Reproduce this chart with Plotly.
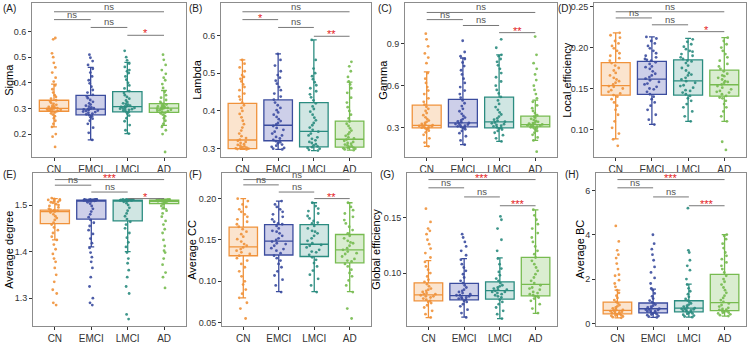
import plotly.graph_objects as go

W, H = 748, 344
GROUPS = ["CN", "EMCI", "LMCI", "AD"]
LINE_COLORS = ["#F0923B", "#3B4C9E", "#2B8C80", "#77BB50"]
FILL_COLORS = ["rgba(240,146,59,0.25)", "rgba(70,76,175,0.27)", "rgba(43,140,128,0.22)", "rgba(119,187,80,0.27)"]

# ---------------- data ----------------
SIGMA_Q1 = [0.289, 0.275, 0.287, 0.285]
SIGMA_MED = [0.300, 0.297, 0.307, 0.301]
SIGMA_Q3 = [0.332, 0.351, 0.366, 0.319]
SIGMA_LO = [0.228, 0.177, 0.202, 0.234]
SIGMA_HI = [0.395, 0.460, 0.480, 0.370]
SIGMA_CN = [0.150, 0.190, 0.200, 0.228, 0.240, 0.252, 0.262, 0.270, 0.276, 0.281, 0.285, 0.288, 0.290, 0.292, 0.294, 0.295, 0.297, 0.298, 0.299, 0.300, 0.301, 0.302, 0.304, 0.306, 0.308, 0.311, 0.314, 0.318, 0.322, 0.327, 0.332, 0.338, 0.345, 0.352, 0.362, 0.375, 0.390, 0.405, 0.420, 0.440, 0.460, 0.478, 0.500, 0.515, 0.570, 0.575]
SIGMA_EMCI = [0.177, 0.205, 0.225, 0.240, 0.252, 0.260, 0.266, 0.270, 0.274, 0.277, 0.280, 0.283, 0.286, 0.288, 0.290, 0.292, 0.294, 0.296, 0.297, 0.299, 0.301, 0.304, 0.307, 0.311, 0.315, 0.320, 0.326, 0.333, 0.340, 0.347, 0.353, 0.362, 0.372, 0.385, 0.398, 0.410, 0.425, 0.440, 0.455, 0.470, 0.485, 0.498, 0.510]
SIGMA_LMCI = [0.202, 0.215, 0.235, 0.250, 0.262, 0.272, 0.280, 0.285, 0.288, 0.291, 0.294, 0.296, 0.297, 0.299, 0.300, 0.302, 0.304, 0.306, 0.308, 0.310, 0.311, 0.315, 0.318, 0.320, 0.325, 0.331, 0.338, 0.345, 0.352, 0.360, 0.368, 0.378, 0.390, 0.400, 0.412, 0.425, 0.438, 0.445, 0.450, 0.462, 0.475, 0.488, 0.500, 0.525]
SIGMA_AD = [0.130, 0.200, 0.215, 0.228, 0.240, 0.252, 0.262, 0.270, 0.276, 0.281, 0.284, 0.287, 0.289, 0.291, 0.293, 0.295, 0.297, 0.299, 0.300, 0.301, 0.302, 0.304, 0.306, 0.308, 0.310, 0.312, 0.315, 0.318, 0.321, 0.326, 0.333, 0.342, 0.352, 0.365, 0.380, 0.395, 0.410, 0.420, 0.435, 0.450, 0.470, 0.490, 0.510]

LAMBDA_Q1 = [0.300, 0.321, 0.305, 0.304]
LAMBDA_MED = [0.323, 0.362, 0.346, 0.325]
LAMBDA_Q3 = [0.420, 0.429, 0.422, 0.373]
LAMBDA_LO = [0.298, 0.298, 0.295, 0.296]
LAMBDA_HI = [0.535, 0.551, 0.588, 0.476]
LAMBDA_CN = [0.298, 0.299, 0.300, 0.301, 0.302, 0.303, 0.304, 0.306, 0.308, 0.310, 0.312, 0.315, 0.318, 0.321, 0.324, 0.328, 0.333, 0.340, 0.348, 0.356, 0.365, 0.374, 0.383, 0.392, 0.400, 0.408, 0.415, 0.422, 0.430, 0.438, 0.446, 0.455, 0.463, 0.470, 0.478, 0.485, 0.490, 0.495, 0.505, 0.515, 0.525, 0.535]
LAMBDA_EMCI = [0.298, 0.300, 0.302, 0.305, 0.308, 0.311, 0.314, 0.317, 0.320, 0.323, 0.327, 0.331, 0.335, 0.340, 0.345, 0.350, 0.355, 0.360, 0.364, 0.368, 0.373, 0.378, 0.384, 0.390, 0.396, 0.402, 0.408, 0.415, 0.422, 0.430, 0.438, 0.446, 0.455, 0.463, 0.472, 0.480, 0.488, 0.495, 0.505, 0.520, 0.535, 0.551]
LAMBDA_LMCI = [0.295, 0.297, 0.300, 0.302, 0.304, 0.306, 0.309, 0.312, 0.315, 0.318, 0.322, 0.326, 0.330, 0.335, 0.340, 0.345, 0.350, 0.356, 0.362, 0.368, 0.375, 0.382, 0.390, 0.398, 0.405, 0.412, 0.420, 0.428, 0.436, 0.444, 0.452, 0.460, 0.468, 0.476, 0.484, 0.492, 0.500, 0.512, 0.535, 0.588]
LAMBDA_AD = [0.296, 0.298, 0.300, 0.301, 0.302, 0.303, 0.305, 0.307, 0.309, 0.311, 0.313, 0.315, 0.318, 0.321, 0.324, 0.327, 0.330, 0.334, 0.338, 0.343, 0.348, 0.354, 0.360, 0.366, 0.372, 0.380, 0.390, 0.400, 0.410, 0.422, 0.435, 0.448, 0.460, 0.470, 0.478, 0.490, 0.505, 0.518, 0.530]

GAMMA_Q1 = [0.300, 0.307, 0.300, 0.307]
GAMMA_MED = [0.318, 0.335, 0.342, 0.323]
GAMMA_Q3 = [0.461, 0.503, 0.519, 0.383]
GAMMA_LO = [0.168, 0.180, 0.203, 0.210]
GAMMA_HI = [0.699, 0.797, 0.820, 0.497]
GAMMA_CN = [0.168, 0.195, 0.225, 0.250, 0.268, 0.280, 0.288, 0.294, 0.298, 0.301, 0.304, 0.307, 0.310, 0.313, 0.316, 0.319, 0.323, 0.328, 0.335, 0.343, 0.352, 0.362, 0.375, 0.390, 0.405, 0.420, 0.435, 0.450, 0.465, 0.485, 0.510, 0.540, 0.565, 0.590, 0.620, 0.650, 0.690, 0.760, 0.800, 0.830, 0.880, 0.930, 0.970]
GAMMA_EMCI = [0.180, 0.210, 0.240, 0.262, 0.278, 0.290, 0.298, 0.303, 0.307, 0.311, 0.315, 0.319, 0.323, 0.327, 0.331, 0.335, 0.340, 0.346, 0.353, 0.362, 0.373, 0.385, 0.400, 0.418, 0.435, 0.455, 0.475, 0.495, 0.515, 0.540, 0.565, 0.590, 0.620, 0.650, 0.680, 0.710, 0.740, 0.765, 0.790, 0.810, 0.840, 0.920]
GAMMA_LMCI = [0.203, 0.225, 0.248, 0.265, 0.278, 0.288, 0.295, 0.300, 0.305, 0.310, 0.315, 0.320, 0.326, 0.332, 0.338, 0.344, 0.350, 0.358, 0.368, 0.380, 0.395, 0.410, 0.428, 0.448, 0.470, 0.495, 0.520, 0.545, 0.570, 0.600, 0.630, 0.660, 0.690, 0.720, 0.745, 0.770, 0.790, 0.810, 0.820, 0.870, 0.930]
GAMMA_AD = [0.130, 0.210, 0.232, 0.250, 0.265, 0.278, 0.288, 0.295, 0.300, 0.304, 0.308, 0.312, 0.315, 0.318, 0.321, 0.324, 0.327, 0.330, 0.334, 0.338, 0.343, 0.349, 0.356, 0.364, 0.372, 0.380, 0.390, 0.405, 0.420, 0.440, 0.460, 0.485, 0.510, 0.540, 0.570, 0.600, 0.640, 0.680, 0.720, 0.760, 0.820, 0.950]

LOCEFF_Q1 = [0.1420, 0.1428, 0.1420, 0.1407]
LOCEFF_MED = [0.1534, 0.1614, 0.1594, 0.1546]
LOCEFF_Q3 = [0.1816, 0.1830, 0.1850, 0.1724]
LOCEFF_LO = [0.0885, 0.1063, 0.1100, 0.1100]
LOCEFF_HI = [0.2180, 0.2130, 0.2113, 0.2120]
LOCEFF_CN = [0.080, 0.088, 0.095, 0.102, 0.110, 0.118, 0.124, 0.129, 0.133, 0.137, 0.140, 0.142, 0.144, 0.146, 0.148, 0.150, 0.152, 0.153, 0.155, 0.157, 0.159, 0.161, 0.163, 0.166, 0.169, 0.172, 0.175, 0.178, 0.181, 0.184, 0.187, 0.190, 0.193, 0.196, 0.199, 0.202, 0.205, 0.208, 0.212, 0.215, 0.218]
LOCEFF_EMCI = [0.106, 0.112, 0.118, 0.124, 0.129, 0.133, 0.137, 0.140, 0.143, 0.146, 0.149, 0.150, 0.152, 0.155, 0.156, 0.158, 0.160, 0.162, 0.164, 0.166, 0.168, 0.171, 0.174, 0.176, 0.177, 0.180, 0.182, 0.184, 0.185, 0.186, 0.188, 0.190, 0.193, 0.196, 0.199, 0.202, 0.205, 0.208, 0.211, 0.213]
LOCEFF_LMCI = [0.110, 0.116, 0.122, 0.127, 0.131, 0.135, 0.138, 0.141, 0.143, 0.145, 0.147, 0.148, 0.151, 0.153, 0.154, 0.157, 0.159, 0.161, 0.163, 0.166, 0.167, 0.169, 0.172, 0.175, 0.178, 0.181, 0.183, 0.184, 0.186, 0.188, 0.190, 0.192, 0.195, 0.196, 0.198, 0.201, 0.204, 0.207, 0.210]
LOCEFF_AD = [0.075, 0.085, 0.110, 0.116, 0.122, 0.127, 0.131, 0.135, 0.138, 0.139, 0.141, 0.143, 0.145, 0.146, 0.147, 0.149, 0.151, 0.153, 0.155, 0.157, 0.158, 0.159, 0.161, 0.163, 0.165, 0.166, 0.168, 0.171, 0.174, 0.177, 0.180, 0.184, 0.188, 0.192, 0.196, 0.200, 0.204, 0.208, 0.212]

DEGREE_Q1 = [1.460, 1.470, 1.466, 1.503]
DEGREE_MED = [1.486, 1.510, 1.510, 1.508]
DEGREE_Q3 = [1.489, 1.5105, 1.5105, 1.5105]
DEGREE_LO = [1.425, 1.410, 1.400, 1.492]
DEGREE_HI = [1.514, 1.512, 1.512, 1.512]
DEGREE_CN = [1.285, 1.290, 1.310, 1.318, 1.335, 1.350, 1.365, 1.378, 1.385, 1.395, 1.405, 1.415, 1.425, 1.432, 1.440, 1.446, 1.452, 1.458, 1.462, 1.468, 1.472, 1.476, 1.480, 1.484, 1.486, 1.487, 1.488, 1.489, 1.490, 1.492, 1.495, 1.498, 1.500, 1.502, 1.505, 1.506, 1.507, 1.509, 1.510, 1.511, 1.512, 1.513, 1.515]
DEGREE_EMCI = [1.285, 1.290, 1.300, 1.325, 1.345, 1.365, 1.378, 1.388, 1.398, 1.408, 1.418, 1.428, 1.438, 1.446, 1.455, 1.462, 1.468, 1.474, 1.480, 1.486, 1.492, 1.498, 1.503, 1.506, 1.508, 1.509, 1.509, 1.510, 1.510, 1.510, 1.511, 1.511, 1.511, 1.511, 1.511, 1.512, 1.512, 1.512, 1.512, 1.512, 1.510]
DEGREE_LMCI = [1.255, 1.265, 1.310, 1.325, 1.345, 1.360, 1.375, 1.385, 1.398, 1.410, 1.420, 1.430, 1.440, 1.450, 1.458, 1.464, 1.470, 1.476, 1.482, 1.488, 1.494, 1.500, 1.504, 1.507, 1.509, 1.509, 1.510, 1.510, 1.510, 1.510, 1.511, 1.511, 1.511, 1.511, 1.511, 1.512, 1.512, 1.512, 1.512]
DEGREE_AD = [1.322, 1.345, 1.355, 1.372, 1.385, 1.398, 1.402, 1.412, 1.425, 1.440, 1.448, 1.458, 1.466, 1.475, 1.482, 1.488, 1.494, 1.498, 1.502, 1.504, 1.506, 1.507, 1.508, 1.508, 1.509, 1.509, 1.509, 1.510, 1.510, 1.510, 1.510, 1.511, 1.511, 1.511, 1.511, 1.512, 1.512, 1.512, 1.512]

AVGCC_Q1 = [0.1309, 0.1318, 0.1300, 0.1223]
AVGCC_MED = [0.1416, 0.1487, 0.1448, 0.1380]
AVGCC_Q3 = [0.1656, 0.1685, 0.1685, 0.1566]
AVGCC_LO = [0.0800, 0.0874, 0.0874, 0.0874]
AVGCC_HI = [0.2000, 0.1970, 0.1950, 0.1950]
AVGCC_CN = [0.055, 0.067, 0.074, 0.080, 0.085, 0.090, 0.096, 0.100, 0.106, 0.112, 0.117, 0.121, 0.125, 0.128, 0.131, 0.133, 0.135, 0.137, 0.139, 0.141, 0.143, 0.145, 0.148, 0.151, 0.154, 0.157, 0.160, 0.163, 0.166, 0.169, 0.172, 0.175, 0.178, 0.181, 0.184, 0.187, 0.190, 0.193, 0.197, 0.200]
AVGCC_EMCI = [0.087, 0.095, 0.102, 0.107, 0.112, 0.117, 0.121, 0.125, 0.128, 0.131, 0.134, 0.137, 0.139, 0.140, 0.143, 0.145, 0.146, 0.148, 0.150, 0.152, 0.155, 0.158, 0.160, 0.161, 0.164, 0.167, 0.169, 0.170, 0.172, 0.175, 0.178, 0.181, 0.184, 0.187, 0.190, 0.193, 0.197]
AVGCC_LMCI = [0.087, 0.095, 0.103, 0.108, 0.113, 0.118, 0.122, 0.126, 0.129, 0.132, 0.135, 0.136, 0.138, 0.141, 0.143, 0.144, 0.146, 0.149, 0.152, 0.155, 0.158, 0.160, 0.161, 0.164, 0.167, 0.170, 0.171, 0.173, 0.176, 0.179, 0.182, 0.185, 0.188, 0.191, 0.195]
AVGCC_AD = [0.055, 0.067, 0.087, 0.095, 0.101, 0.106, 0.110, 0.114, 0.118, 0.121, 0.124, 0.125, 0.127, 0.130, 0.133, 0.134, 0.136, 0.138, 0.140, 0.143, 0.146, 0.147, 0.149, 0.152, 0.155, 0.158, 0.162, 0.166, 0.170, 0.174, 0.178, 0.182, 0.186, 0.190, 0.195]

GLOBEFF_Q1 = [0.0750, 0.0759, 0.0765, 0.0795]
GLOBEFF_MED = [0.0803, 0.0797, 0.0841, 0.0898]
GLOBEFF_Q3 = [0.0912, 0.0907, 0.0921, 0.1141]
GLOBEFF_LO = [0.0598, 0.0604, 0.0589, 0.0636]
GLOBEFF_HI = [0.1112, 0.1130, 0.1136, 0.1568]
GLOBEFF_CN = [0.060, 0.063, 0.066, 0.069, 0.071, 0.073, 0.074, 0.075, 0.076, 0.077, 0.078, 0.079, 0.079, 0.080, 0.081, 0.081, 0.082, 0.083, 0.084, 0.085, 0.086, 0.088, 0.090, 0.092, 0.094, 0.097, 0.100, 0.103, 0.106, 0.110, 0.114, 0.118, 0.122, 0.126, 0.130, 0.135, 0.138, 0.140, 0.146, 0.158]
GLOBEFF_EMCI = [0.060, 0.064, 0.067, 0.070, 0.072, 0.074, 0.075, 0.076, 0.077, 0.077, 0.078, 0.078, 0.079, 0.080, 0.080, 0.081, 0.082, 0.083, 0.084, 0.085, 0.087, 0.089, 0.091, 0.093, 0.096, 0.099, 0.102, 0.105, 0.108, 0.112, 0.116, 0.120, 0.124, 0.128, 0.132, 0.135]
GLOBEFF_LMCI = [0.059, 0.063, 0.066, 0.069, 0.072, 0.074, 0.076, 0.078, 0.079, 0.080, 0.081, 0.082, 0.083, 0.083, 0.084, 0.085, 0.085, 0.086, 0.087, 0.088, 0.089, 0.091, 0.093, 0.095, 0.098, 0.101, 0.104, 0.108, 0.113, 0.120, 0.130, 0.140, 0.148, 0.151]
GLOBEFF_AD = [0.064, 0.068, 0.072, 0.075, 0.077, 0.078, 0.079, 0.079, 0.080, 0.081, 0.082, 0.083, 0.085, 0.086, 0.087, 0.089, 0.091, 0.093, 0.096, 0.099, 0.102, 0.105, 0.108, 0.111, 0.114, 0.117, 0.120, 0.124, 0.128, 0.132, 0.136, 0.140, 0.144, 0.148, 0.152, 0.157]

BC_Q1 = [0.43, 0.47, 0.52, 0.575]
BC_MED = [0.59, 0.66, 0.69, 0.94]
BC_Q3 = [0.96, 0.92, 1.02, 2.21]
BC_LO = [0.25, 0.27, 0.28, 0.33]
BC_HI = [1.50, 1.55, 1.77, 4.01]
BC_CN = [0.25, 0.28, 0.31, 0.34, 0.35, 0.37, 0.40, 0.43, 0.45, 0.46, 0.49, 0.52, 0.52, 0.55, 0.58, 0.61, 0.64, 0.68, 0.72, 0.77, 0.83, 0.90, 0.97, 1.05, 1.15, 1.25, 1.38, 1.50, 1.65, 1.80, 1.95, 2.15, 2.20, 2.45, 2.70, 2.95, 3.10, 3.30, 3.70, 4.40]
BC_EMCI = [0.27, 0.30, 0.33, 0.37, 0.40, 0.41, 0.45, 0.48, 0.51, 0.54, 0.55, 0.57, 0.60, 0.62, 0.63, 0.66, 0.69, 0.72, 0.76, 0.80, 0.85, 0.90, 0.96, 1.03, 1.12, 1.22, 1.35, 1.50, 1.58, 1.80, 2.05, 2.30, 2.55, 2.85, 3.10, 3.35, 3.60, 4.00]
BC_LMCI = [0.28, 0.31, 0.35, 0.39, 0.43, 0.45, 0.47, 0.51, 0.54, 0.57, 0.58, 0.60, 0.63, 0.65, 0.66, 0.69, 0.72, 0.76, 0.80, 0.85, 0.90, 0.96, 1.03, 1.10, 1.20, 1.32, 1.45, 1.58, 1.75, 2.00, 2.40, 2.60, 2.85, 3.20, 3.30, 5.20]
BC_AD = [0.33, 0.37, 0.41, 0.45, 0.48, 0.49, 0.53, 0.55, 0.57, 0.61, 0.62, 0.65, 0.70, 0.76, 0.83, 0.90, 0.97, 1.05, 1.15, 1.25, 1.38, 1.50, 1.62, 1.75, 1.88, 2.00, 2.15, 2.30, 2.45, 2.60, 2.75, 2.90, 3.05, 3.20, 3.40, 3.60, 3.80, 3.95, 4.01]

# significance brackets: pairs of group indices (top to bottom) and labels per panel
PAIRS = [(0, 3), (0, 1), (1, 2), (2, 3)]
SIG_A = ["ns", "ns", "ns", "*"]
SIG_B = ["ns", "*", "ns", "**"]
SIG_C = ["ns", "ns", "ns", "**"]
SIG_D = ["ns", "ns", "ns", "*"]
SIG_E = ["***", "ns", "ns", "*"]
SIG_F = ["ns", "ns", "ns", "**"]
SIG_G = ["***", "ns", "ns", "***"]
SIG_H = ["***", "ns", "ns", "***"]

# ---------------- layout (pixels) ----------------
panels = [
    dict(tag="(A)", title="Sigma", pts=[SIGMA_CN, SIGMA_EMCI, SIGMA_LMCI, SIGMA_AD],
         st=(SIGMA_Q1, SIGMA_MED, SIGMA_Q3, SIGMA_LO, SIGMA_HI), sig=SIG_A,
         box=(32, 186, 2, 159), yr=[0.1114, 0.7118], tv=[0.2, 0.3, 0.4, 0.5, 0.6], fmt=".1f",
         br=[9, 17, 25, 33], tagxy=(1, 8), tx=9),
    dict(tag="(B)", title="Lambda", pts=[LAMBDA_CN, LAMBDA_EMCI, LAMBDA_LMCI, LAMBDA_AD],
         st=(LAMBDA_Q1, LAMBDA_MED, LAMBDA_Q3, LAMBDA_LO, LAMBDA_HI), sig=SIG_B,
         box=(221, 371, 2, 159), yr=[0.2786, 0.6858], tv=[0.3, 0.4, 0.5, 0.6], fmt=".1f",
         br=[9, 17, 25, 34], tagxy=(187, 8), tx=197),
    dict(tag="(C)", title="Gamma", pts=[GAMMA_CN, GAMMA_EMCI, GAMMA_LMCI, GAMMA_AD],
         st=(GAMMA_Q1, GAMMA_MED, GAMMA_Q3, GAMMA_LO, GAMMA_HI), sig=SIG_C,
         box=(405, 557, 2, 159), yr=[0.094, 1.189], tv=[0.3, 0.6, 0.9], fmt=".1f",
         br=[9.7, 17, 23, 30.3], tagxy=(376, 8), tx=383),
    dict(tag="(D)", title="Local efficiency", pts=[LOCEFF_CN, LOCEFF_EMCI, LOCEFF_LMCI, LOCEFF_AD],
         st=(LOCEFF_Q1, LOCEFF_MED, LOCEFF_Q3, LOCEFF_LO, LOCEFF_HI), sig=SIG_D,
         box=(594, 746, 2, 159), yr=[0.0667, 0.2544], tv=[0.10, 0.15, 0.20, 0.25], fmt=".2f",
         br=[9, 15.3, 22.3, 29.3], tagxy=(556, 8), tx=567),
    dict(tag="(E)", title="Average degree", pts=[DEGREE_CN, DEGREE_EMCI, DEGREE_LMCI, DEGREE_AD],
         st=(DEGREE_Q1, DEGREE_MED, DEGREE_Q3, DEGREE_LO, DEGREE_HI), sig=SIG_E,
         box=(33, 186, 176, 332), yr=[1.2396, 1.568], tv=[1.3, 1.4, 1.5], fmt=".1f",
         br=[6.3, 12, 19, 25.7], tagxy=(1, 177), tx=9),
    dict(tag="(F)", title="Average CC", pts=[AVGCC_CN, AVGCC_EMCI, AVGCC_LMCI, AVGCC_AD],
         st=(AVGCC_Q1, AVGCC_MED, AVGCC_Q3, AVGCC_LO, AVGCC_HI), sig=SIG_F,
         box=(222, 371, 176, 332), yr=[0.0456, 0.2305], tv=[0.05, 0.10, 0.15, 0.20], fmt=".2f",
         br=[6.3, 11.7, 19, 25.7], tagxy=(187, 177), tx=192),
    dict(tag="(G)", title="Global efficiency", pts=[GLOBEFF_CN, GLOBEFF_EMCI, GLOBEFF_LMCI, GLOBEFF_AD],
         st=(GLOBEFF_Q1, GLOBEFF_MED, GLOBEFF_Q3, GLOBEFF_LO, GLOBEFF_HI), sig=SIG_G,
         box=(407, 557, 176, 332), yr=[0.0521, 0.1897], tv=[0.10, 0.15], fmt=".2f",
         br=[6.3, 14.7, 24, 33], tagxy=(378, 177), tx=376),
    dict(tag="(H)", title="Average BC", pts=[BC_CN, BC_EMCI, BC_LMCI, BC_AD],
         st=(BC_Q1, BC_MED, BC_Q3, BC_LO, BC_HI), sig=SIG_H,
         box=(596, 746, 176, 332), yr=[-0.13, 6.77], tv=[0, 2, 4, 6], fmt="d",
         br=[6.3, 14.7, 24, 33], tagxy=(563, 177), tx=580),
]

FONT = "Liberation Sans, Arial, sans-serif"
fig = go.Figure()
layout = dict(width=W, height=H, margin=dict(l=0, r=0, t=0, b=0),
              paper_bgcolor="white", plot_bgcolor="white", showlegend=False,
              boxmode="overlay", font=dict(family=FONT))
shapes, annotations = [], []

for k, p in enumerate(panels):
    n = k + 1
    xa = "x" if n == 1 else f"x{n}"
    ya = "y" if n == 1 else f"y{n}"
    x0, x1, y0, y1 = p["box"]
    q1, med, q3, lo, hi = p["st"]
    for g, grp in enumerate(GROUPS):
        vals = p["pts"][g]
        fig.add_trace(go.Box(
            x=[grp] * len(vals), y=vals, xaxis=xa, yaxis=ya, width=0.8,
            boxpoints="all", jitter=0.55, pointpos=0,
            fillcolor="rgba(0,0,0,0)", line=dict(width=0, color="rgba(0,0,0,0)"),
            marker=dict(size=2.8, color=LINE_COLORS[g], opacity=0.9, line=dict(width=0)),
            hoverinfo="skip"))
    for g, grp in enumerate(GROUPS):
        fig.add_trace(go.Box(
            x=[grp], q1=[q1[g]], median=[med[g]], q3=[q3[g]],
            lowerfence=[lo[g]], upperfence=[hi[g]], xaxis=xa, yaxis=ya,
            width=0.8, whiskerwidth=0.2, boxpoints=False,
            fillcolor=FILL_COLORS[g], line=dict(width=1.3, color=LINE_COLORS[g]),
            hoverinfo="skip"))
    axis_common = dict(showline=True, mirror=True, linecolor="#8c8c8c", linewidth=1,
                       ticks="outside", ticklen=3, tickcolor="#333333", showgrid=False,
                       zeroline=False)
    layout["xaxis" if n == 1 else f"xaxis{n}"] = dict(
        domain=[x0 / W, x1 / W], anchor=ya, type="category",
        categoryorder="array", categoryarray=GROUPS, range=[-0.6, 3.6],
        tickfont=dict(size=10, color="#333333", family=FONT), **axis_common)
    layout["yaxis" if n == 1 else f"yaxis{n}"] = dict(
        domain=[1 - y1 / H, 1 - y0 / H], anchor=xa, range=p["yr"],
        tickvals=p["tv"], tickformat=p["fmt"],
        tickfont=dict(size=9, color="#333333", family=FONT), **axis_common)
    # y-axis title as rotated annotation
    annotations.append(dict(xref="paper", yref="paper", x=p["tx"] / W, y=1 - ((y0 + y1) / 2) / H,
                            xanchor="center", yanchor="middle", textangle=-90, text=p["title"],
                            showarrow=False, font=dict(size=11, color="black", family=FONT)))
    ph = y1 - y0
    for (i, j), lab, off in zip(PAIRS, p["sig"], p["br"]):
        yf = 1 - off / ph
        shapes.append(dict(type="line", xref=xa, yref=f"{ya} domain",
                           x0=GROUPS[i], x1=GROUPS[j], y0=yf, y1=yf,
                           line=dict(color="#777777", width=1)))
        star = lab != "ns"
        annotations.append(dict(
            xref=xa, yref=f"{ya} domain", x=(i + j) / 2, y=yf,
            text=lab, showarrow=False, yanchor="bottom",
            yshift=-6 if star else -2,
            font=dict(size=11 if star else 9.5, color="#E41A1C" if star else "#555555", family=FONT)))
    tx, ty = p["tagxy"]
    annotations.append(dict(xref="paper", yref="paper", x=tx / W, y=1 - ty / H,
                            xanchor="left", yanchor="middle", text=p["tag"], showarrow=False,
                            font=dict(size=10, color="#222222", family=FONT)))

layout["shapes"] = shapes
layout["annotations"] = annotations
fig.update_layout(**layout)
fig.write_html("out.html")
